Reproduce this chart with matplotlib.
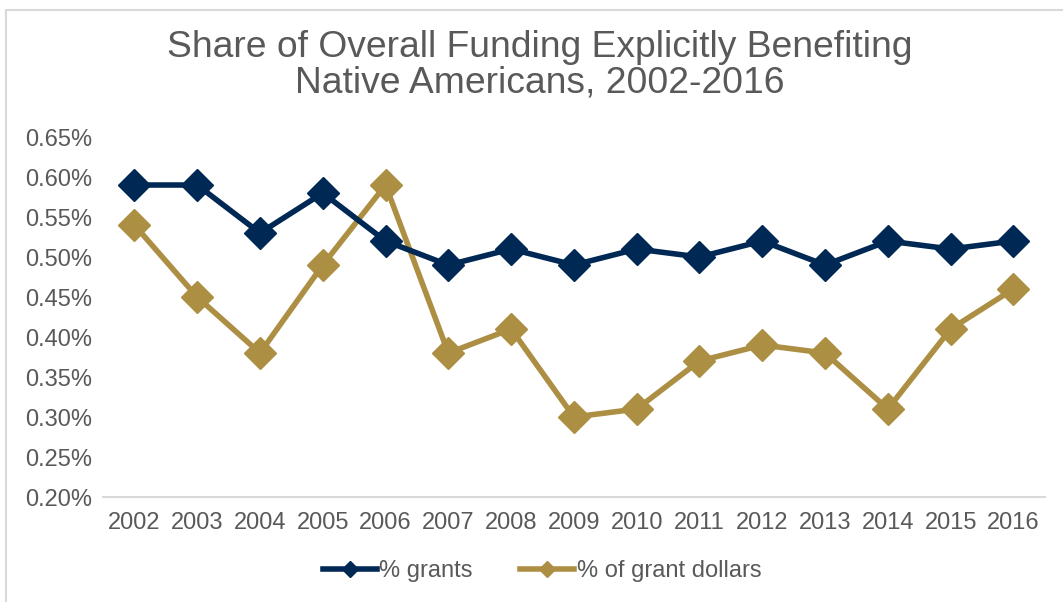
import matplotlib.pyplot as plt
from matplotlib.lines import Line2D
from matplotlib.patches import Rectangle
from matplotlib.ticker import FuncFormatter

years = ['2002', '2003', '2004', '2005', '2006', '2007', '2008', '2009',
         '2010', '2011', '2012', '2013', '2014', '2015', '2016']
pct_grants = [0.59, 0.59, 0.53, 0.58, 0.52, 0.49, 0.51, 0.49,
              0.51, 0.50, 0.52, 0.49, 0.52, 0.51, 0.52]
pct_dollars = [0.54, 0.45, 0.38, 0.49, 0.59, 0.38, 0.41, 0.30,
               0.31, 0.37, 0.39, 0.38, 0.31, 0.41, 0.46]

navy = '#002855'
gold = '#AD8F44'
text_grey = '#595959'

plt.rcParams['font.family'] = ['Liberation Sans', 'DejaVu Sans']

fig = plt.figure(figsize=(10.63, 6.02), dpi=100)
ax = fig.add_axes([0.0969, 0.1744, 0.886, 0.598])

# chart frame (only top and left edges visible in the crop)
fig.patches.append(Rectangle((6 / 1063, -0.1), 1.2, 1 - 10 / 602 + 0.1,
                             transform=fig.transFigure, fill=False,
                             edgecolor='#D9D9D9', linewidth=1.5))

x = range(len(years))
ax.plot(x, pct_grants, color=navy, lw=4, marker='D', markersize=16, zorder=3)
ax.plot(x, pct_dollars, color=gold, lw=4, marker='D', markersize=16, zorder=2)

ax.set_xlim(-0.5, len(years) - 0.5)
ax.set_ylim(0.20, 0.65)
ax.set_yticks([0.20, 0.25, 0.30, 0.35, 0.40, 0.45, 0.50, 0.55, 0.60, 0.65])
ax.yaxis.set_major_formatter(FuncFormatter(lambda v, p: f'{v:.2f}%'))
ax.set_xticks(list(x))
ax.set_xticklabels(years)
ax.tick_params(axis='both', length=0, labelsize=17, labelcolor=text_grey)
ax.tick_params(axis='y', pad=8)
ax.tick_params(axis='x', pad=11)

for side in ['top', 'right', 'left']:
    ax.spines[side].set_visible(False)
ax.spines['bottom'].set_color('#D9D9D9')
ax.spines['bottom'].set_linewidth(1.5)

fig.text(0.508, 0.892, 'Share of Overall Funding Explicitly Benefiting\nNative Americans, 2002-2016',
         ha='center', va='center', fontsize=26.8, color=text_grey, linespacing=1.0)

handles = [Line2D([], [], color=navy, lw=4, marker='D', markersize=8),
           Line2D([], [], color=gold, lw=4, marker='D', markersize=8)]
fig.legend(handles, ['% grants', '% of grant dollars'], loc='center',
           bbox_to_anchor=(0.51, 0.051), ncol=2, frameon=False, fontsize=17,
           labelcolor=text_grey, handlelength=2.3, handletextpad=0.1,
           columnspacing=2.0)

fig.savefig('out.png', dpi=100)
